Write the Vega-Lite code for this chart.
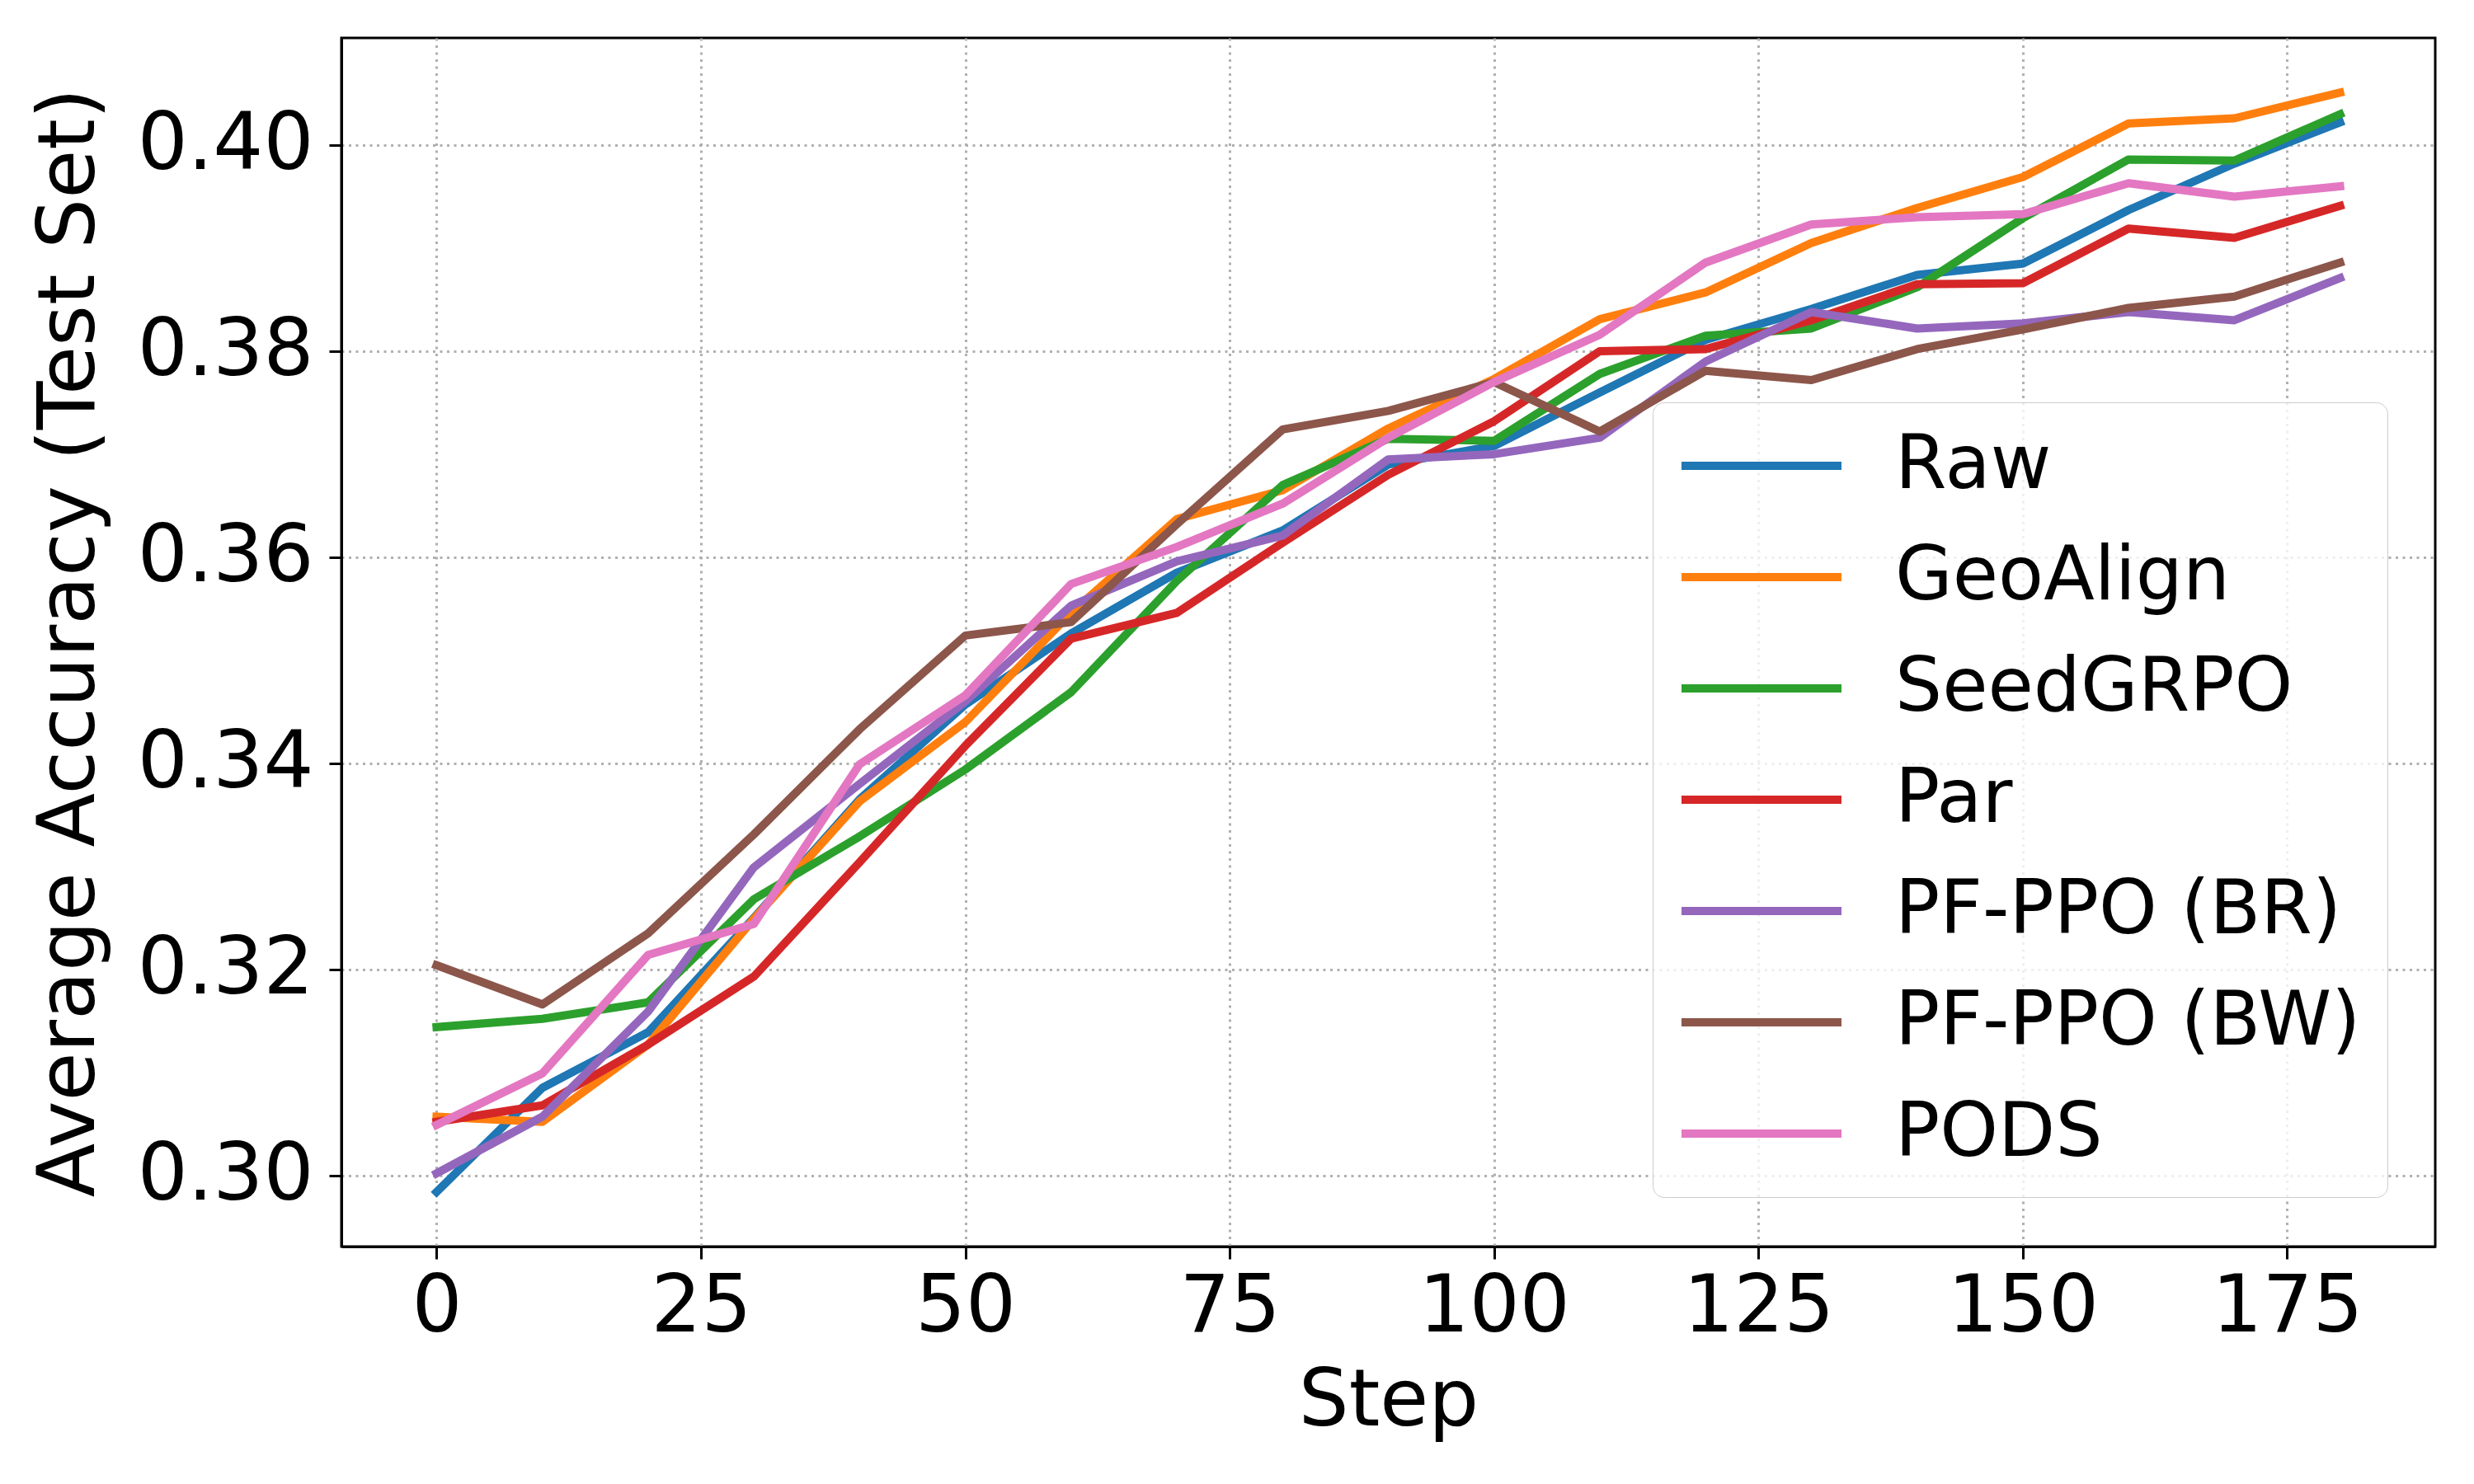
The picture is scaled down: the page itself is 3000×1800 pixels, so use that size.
{
  "$schema": "https://vega.github.io/schema/vega-lite/v6.json",
  "width": 2539,
  "height": 1466,
  "autosize": {"type": "none"},
  "padding": {"left": 414, "top": 46, "right": 47, "bottom": 288},
  "background": "white",
  "config": {
    "font": "DejaVu Sans",
    "view": {"stroke": "black", "strokeWidth": 3}
  },
  "data": {
    "values": [
      {"step": 0, "method": "Raw", "acc": 0.2984},
      {"step": 10, "method": "Raw", "acc": 0.3085},
      {"step": 20, "method": "Raw", "acc": 0.3139},
      {"step": 30, "method": "Raw", "acc": 0.3250},
      {"step": 40, "method": "Raw", "acc": 0.3365},
      {"step": 50, "method": "Raw", "acc": 0.3457},
      {"step": 60, "method": "Raw", "acc": 0.3526},
      {"step": 70, "method": "Raw", "acc": 0.3585},
      {"step": 80, "method": "Raw", "acc": 0.3626},
      {"step": 90, "method": "Raw", "acc": 0.3690},
      {"step": 100, "method": "Raw", "acc": 0.3708},
      {"step": 110, "method": "Raw", "acc": 0.3760},
      {"step": 120, "method": "Raw", "acc": 0.3811},
      {"step": 130, "method": "Raw", "acc": 0.3841},
      {"step": 140, "method": "Raw", "acc": 0.3874},
      {"step": 150, "method": "Raw", "acc": 0.3885},
      {"step": 160, "method": "Raw", "acc": 0.3937},
      {"step": 170, "method": "Raw", "acc": 0.3982},
      {"step": 180, "method": "Raw", "acc": 0.4022},

      {"step": 0, "method": "GeoAlign", "acc": 0.3057},
      {"step": 10, "method": "GeoAlign", "acc": 0.3052},
      {"step": 20, "method": "GeoAlign", "acc": 0.3127},
      {"step": 30, "method": "GeoAlign", "acc": 0.3249},
      {"step": 40, "method": "GeoAlign", "acc": 0.3363},
      {"step": 50, "method": "GeoAlign", "acc": 0.3440},
      {"step": 60, "method": "GeoAlign", "acc": 0.3546},
      {"step": 70, "method": "GeoAlign", "acc": 0.3637},
      {"step": 80, "method": "GeoAlign", "acc": 0.3665},
      {"step": 90, "method": "GeoAlign", "acc": 0.3725},
      {"step": 100, "method": "GeoAlign", "acc": 0.3773},
      {"step": 110, "method": "GeoAlign", "acc": 0.3831},
      {"step": 120, "method": "GeoAlign", "acc": 0.3857},
      {"step": 130, "method": "GeoAlign", "acc": 0.3905},
      {"step": 140, "method": "GeoAlign", "acc": 0.3939},
      {"step": 150, "method": "GeoAlign", "acc": 0.3969},
      {"step": 160, "method": "GeoAlign", "acc": 0.4021},
      {"step": 170, "method": "GeoAlign", "acc": 0.4026},
      {"step": 180, "method": "GeoAlign", "acc": 0.4051},

      {"step": 0, "method": "SeedGRPO", "acc": 0.3144},
      {"step": 10, "method": "SeedGRPO", "acc": 0.3152},
      {"step": 20, "method": "SeedGRPO", "acc": 0.3168},
      {"step": 30, "method": "SeedGRPO", "acc": 0.3268},
      {"step": 40, "method": "SeedGRPO", "acc": 0.3329},
      {"step": 50, "method": "SeedGRPO", "acc": 0.3394},
      {"step": 60, "method": "SeedGRPO", "acc": 0.3469},
      {"step": 70, "method": "SeedGRPO", "acc": 0.3577},
      {"step": 80, "method": "SeedGRPO", "acc": 0.3670},
      {"step": 90, "method": "SeedGRPO", "acc": 0.3715},
      {"step": 100, "method": "SeedGRPO", "acc": 0.3713},
      {"step": 110, "method": "SeedGRPO", "acc": 0.3778},
      {"step": 120, "method": "SeedGRPO", "acc": 0.3815},
      {"step": 130, "method": "SeedGRPO", "acc": 0.3822},
      {"step": 140, "method": "SeedGRPO", "acc": 0.3862},
      {"step": 150, "method": "SeedGRPO", "acc": 0.3929},
      {"step": 160, "method": "SeedGRPO", "acc": 0.3986},
      {"step": 170, "method": "SeedGRPO", "acc": 0.3985},
      {"step": 180, "method": "SeedGRPO", "acc": 0.4030},

      {"step": 0, "method": "Par", "acc": 0.3052},
      {"step": 10, "method": "Par", "acc": 0.3068},
      {"step": 20, "method": "Par", "acc": 0.3127},
      {"step": 30, "method": "Par", "acc": 0.3193},
      {"step": 40, "method": "Par", "acc": 0.3304},
      {"step": 50, "method": "Par", "acc": 0.3417},
      {"step": 60, "method": "Par", "acc": 0.3521},
      {"step": 70, "method": "Par", "acc": 0.3546},
      {"step": 80, "method": "Par", "acc": 0.3614},
      {"step": 90, "method": "Par", "acc": 0.3680},
      {"step": 100, "method": "Par", "acc": 0.3732},
      {"step": 110, "method": "Par", "acc": 0.3800},
      {"step": 120, "method": "Par", "acc": 0.3802},
      {"step": 130, "method": "Par", "acc": 0.3830},
      {"step": 140, "method": "Par", "acc": 0.3865},
      {"step": 150, "method": "Par", "acc": 0.3866},
      {"step": 160, "method": "Par", "acc": 0.3919},
      {"step": 170, "method": "Par", "acc": 0.3910},
      {"step": 180, "method": "Par", "acc": 0.3941},

      {"step": 0, "method": "PF-PPO (BR)", "acc": 0.3002},
      {"step": 10, "method": "PF-PPO (BR)", "acc": 0.3057},
      {"step": 20, "method": "PF-PPO (BR)", "acc": 0.3159},
      {"step": 30, "method": "PF-PPO (BR)", "acc": 0.3299},
      {"step": 40, "method": "PF-PPO (BR)", "acc": 0.3380},
      {"step": 50, "method": "PF-PPO (BR)", "acc": 0.3460},
      {"step": 60, "method": "PF-PPO (BR)", "acc": 0.3553},
      {"step": 70, "method": "PF-PPO (BR)", "acc": 0.3596},
      {"step": 80, "method": "PF-PPO (BR)", "acc": 0.3621},
      {"step": 90, "method": "PF-PPO (BR)", "acc": 0.3695},
      {"step": 100, "method": "PF-PPO (BR)", "acc": 0.3700},
      {"step": 110, "method": "PF-PPO (BR)", "acc": 0.3716},
      {"step": 120, "method": "PF-PPO (BR)", "acc": 0.3790},
      {"step": 130, "method": "PF-PPO (BR)", "acc": 0.3838},
      {"step": 140, "method": "PF-PPO (BR)", "acc": 0.3822},
      {"step": 150, "method": "PF-PPO (BR)", "acc": 0.3827},
      {"step": 160, "method": "PF-PPO (BR)", "acc": 0.3838},
      {"step": 170, "method": "PF-PPO (BR)", "acc": 0.3830},
      {"step": 180, "method": "PF-PPO (BR)", "acc": 0.3871},

      {"step": 0, "method": "PF-PPO (BW)", "acc": 0.3204},
      {"step": 10, "method": "PF-PPO (BW)", "acc": 0.3166},
      {"step": 20, "method": "PF-PPO (BW)", "acc": 0.3235},
      {"step": 30, "method": "PF-PPO (BW)", "acc": 0.3331},
      {"step": 40, "method": "PF-PPO (BW)", "acc": 0.3433},
      {"step": 50, "method": "PF-PPO (BW)", "acc": 0.3524},
      {"step": 60, "method": "PF-PPO (BW)", "acc": 0.3537},
      {"step": 70, "method": "PF-PPO (BW)", "acc": 0.3632},
      {"step": 80, "method": "PF-PPO (BW)", "acc": 0.3724},
      {"step": 90, "method": "PF-PPO (BW)", "acc": 0.3742},
      {"step": 100, "method": "PF-PPO (BW)", "acc": 0.3770},
      {"step": 110, "method": "PF-PPO (BW)", "acc": 0.3722},
      {"step": 120, "method": "PF-PPO (BW)", "acc": 0.3781},
      {"step": 130, "method": "PF-PPO (BW)", "acc": 0.3772},
      {"step": 140, "method": "PF-PPO (BW)", "acc": 0.3802},
      {"step": 150, "method": "PF-PPO (BW)", "acc": 0.3821},
      {"step": 160, "method": "PF-PPO (BW)", "acc": 0.3842},
      {"step": 170, "method": "PF-PPO (BW)", "acc": 0.3853},
      {"step": 180, "method": "PF-PPO (BW)", "acc": 0.3886},

      {"step": 0, "method": "PODS", "acc": 0.3049},
      {"step": 10, "method": "PODS", "acc": 0.3099},
      {"step": 20, "method": "PODS", "acc": 0.3214},
      {"step": 30, "method": "PODS", "acc": 0.3244},
      {"step": 40, "method": "PODS", "acc": 0.3399},
      {"step": 50, "method": "PODS", "acc": 0.3466},
      {"step": 60, "method": "PODS", "acc": 0.3574},
      {"step": 70, "method": "PODS", "acc": 0.3610},
      {"step": 80, "method": "PODS", "acc": 0.3652},
      {"step": 90, "method": "PODS", "acc": 0.3716},
      {"step": 100, "method": "PODS", "acc": 0.3770},
      {"step": 110, "method": "PODS", "acc": 0.3816},
      {"step": 120, "method": "PODS", "acc": 0.3886},
      {"step": 130, "method": "PODS", "acc": 0.3923},
      {"step": 140, "method": "PODS", "acc": 0.3930},
      {"step": 150, "method": "PODS", "acc": 0.3933},
      {"step": 160, "method": "PODS", "acc": 0.3963},
      {"step": 170, "method": "PODS", "acc": 0.3950},
      {"step": 180, "method": "PODS", "acc": 0.3960}
    ]
  },
  "mark": {"type": "line", "strokeWidth": 10, "strokeJoin": "round", "strokeCap": "square", "clip": true},
  "encoding": {
    "x": {
      "field": "step",
      "type": "quantitative",
      "title": "Step",
      "scale": {"domain": [-9, 189], "nice": false, "zero": false},
      "axis": {
        "values": [0, 25, 50, 75, 100, 125, 150, 175],
        "format": "d",
        "labelFontSize": 96,
        "labelColor": "black",
        "labelPadding": 11,
        "labelFlush": false,
        "labelLimit": 0,
        "labelOverlap": false,
        "tickSize": 15,
        "tickWidth": 3,
        "tickColor": "black",
        "domainColor": "black",
        "domainWidth": 3,
        "grid": true,
        "gridColor": "#b0b0b0",
        "gridWidth": 3,
        "gridDash": [3, 5.5],
        "titleFontSize": 96,
        "titleFontWeight": "normal",
        "titleColor": "black",
        "titlePadding": 19
      }
    },
    "y": {
      "field": "acc",
      "type": "quantitative",
      "title": "Average Accuracy (Test Set)",
      "scale": {"domain": [0.2931, 0.4104], "nice": false, "zero": false},
      "axis": {
        "values": [0.30, 0.32, 0.34, 0.36, 0.38, 0.40],
        "format": ".2f",
        "labelFontSize": 96,
        "labelColor": "black",
        "labelPadding": 19,
        "labelFlush": false,
        "labelLimit": 0,
        "labelOverlap": false,
        "tickSize": 15,
        "tickWidth": 3,
        "tickColor": "black",
        "domainColor": "black",
        "domainWidth": 3,
        "grid": true,
        "gridColor": "#b0b0b0",
        "gridWidth": 3,
        "gridDash": [3, 5.5],
        "titleFontSize": 96,
        "titleFontWeight": "normal",
        "titleColor": "black",
        "titlePadding": 81
      }
    },
    "color": {
      "field": "method",
      "type": "nominal",
      "sort": ["Raw", "GeoAlign", "SeedGRPO", "Par", "PF-PPO (BR)", "PF-PPO (BW)", "PODS"],
      "scale": {
        "domain": ["Raw", "GeoAlign", "SeedGRPO", "Par", "PF-PPO (BR)", "PF-PPO (BW)", "PODS"],
        "range": ["#1f77b4", "#ff7f0e", "#2ca02c", "#d62728", "#9467bd", "#8c564b", "#e377c2"]
      },
      "legend": {
        "title": null,
        "orient": "none",
        "legendX": 1590,
        "legendY": 442,
        "padding": 32,
        "fillColor": "rgba(255,255,255,0.8)",
        "strokeColor": "#cccccc",
        "cornerRadius": 14,
        "symbolType": "M-4,0H4",
        "symbolSize": 2352,
        "symbolStrokeWidth": 10,
        "symbolOffset": 55,
        "labelOffset": 117,
        "labelFontSize": 90,
        "labelColor": "black",
        "labelLimit": 0,
        "rowPadding": 45
      }
    }
  }
}
